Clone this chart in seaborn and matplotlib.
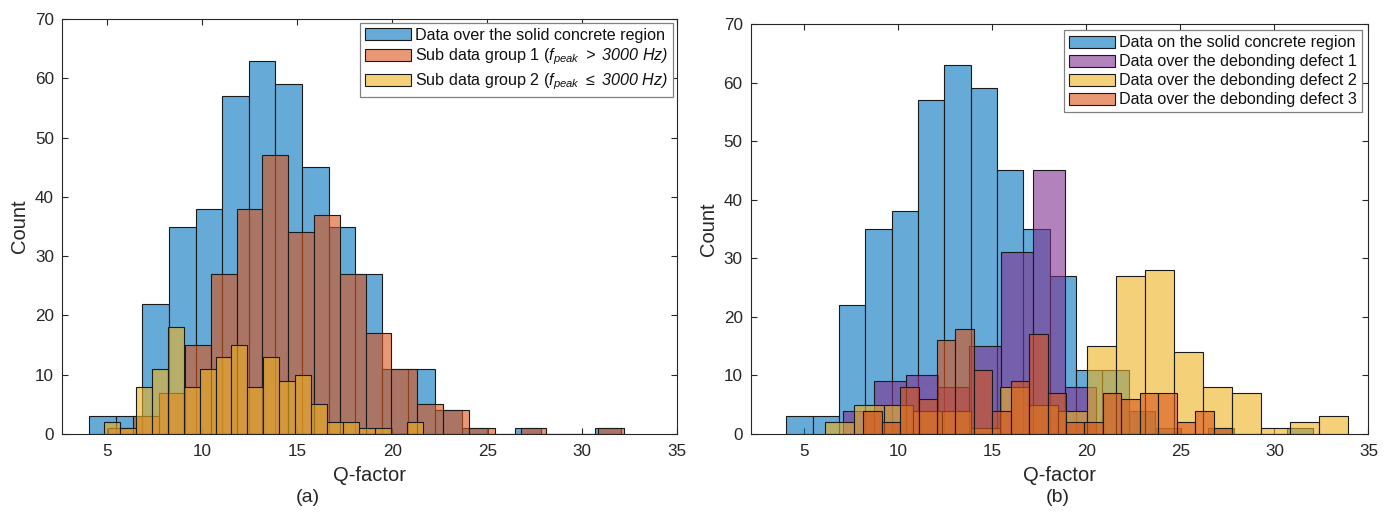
import numpy as np
import pandas as pd
import matplotlib
matplotlib.use("Agg")
import matplotlib.pyplot as plt
import seaborn as sns
from matplotlib.patches import Patch
from matplotlib.colors import to_rgba

# ---------------- data ----------------
# panel (a)
solid_edges = [4.05, 5.45, 6.85, 8.25, 9.65, 11.05, 12.45, 13.85, 15.25, 16.65, 18.05,
               19.45, 20.85, 22.25, 23.65, 25.05, 26.45, 27.85, 29.25, 30.65, 32.05]
solid_counts = [3, 3, 22, 35, 38, 57, 63, 59, 45, 35, 27, 11, 11, 4, 1, 0, 1, 0, 0, 1]

sub1_edges = [5.02, 6.38, 7.74, 9.09, 10.45, 11.81, 13.17, 14.53, 15.88, 17.24, 18.60,
              19.96, 21.32, 22.67, 24.03, 25.39, 26.75, 28.11, 29.46, 30.82, 32.18]
sub1_counts = [1, 3, 7, 15, 27, 38, 47, 34, 37, 27, 17, 11, 5, 4, 1, 0, 1, 0, 0, 1]

sub2_edges = [4.84, 5.68, 6.52, 7.35, 8.19, 9.03, 9.87, 10.71, 11.54, 12.38, 13.22,
              14.06, 14.90, 15.73, 16.57, 17.41, 18.25, 19.09, 19.92, 20.76, 21.60]
sub2_counts = [2, 1, 8, 11, 18, 8, 11, 13, 15, 8, 13, 9, 10, 5, 2, 2, 1, 1, 0, 2]

# panel (b)
def1_edges = [7.04, 8.73, 10.41, 12.10, 13.78, 15.47, 17.16, 18.84, 20.53]
def1_counts = [4, 9, 10, 8, 15, 31, 45, 8]

def2_edges = [6.13, 7.67, 9.22, 10.76, 12.30, 13.85, 15.39, 16.93, 18.47, 20.02,
              21.56, 23.10, 24.65, 26.19, 27.73, 29.28, 30.82, 32.36, 33.90]
def2_counts = [2, 5, 5, 4, 4, 1, 8, 5, 4, 15, 27, 28, 14, 8, 7, 1, 2, 3]

def3_edges = [8.14, 9.12, 10.10, 11.08, 12.06, 13.04, 14.02, 15.00, 15.98, 16.96, 17.94,
              18.92, 19.90, 20.88, 21.86, 22.84, 23.82, 24.80, 25.78, 26.76, 27.74]
def3_counts = [4, 2, 8, 6, 16, 18, 11, 4, 9, 17, 7, 2, 2, 7, 6, 7, 7, 2, 4, 1]

labels_a = ["Data over the solid concrete region",
            r"Sub data group 1 ($f_{peak}\mathsf{\ >\ 3000\ Hz)}$",
            r"Sub data group 2 ($f_{peak}\mathsf{\ \leq\ 3000\ Hz)}$"]
labels_b = ["Data on the solid concrete region",
            "Data over the debonding defect 1",
            "Data over the debonding defect 2",
            "Data over the debonding defect 3"]
x_ticks = [5, 10, 15, 20, 25, 30, 35]
y_ticks = [0, 10, 20, 30, 40, 50, 60, 70]

# ---------------- style ----------------
sns.set_theme(style="white")
plt.rcParams['font.family'] = ['Liberation Sans', 'DejaVu Sans']
plt.rcParams['mathtext.fontset'] = 'custom'
plt.rcParams['mathtext.rm'] = 'Liberation Sans'
plt.rcParams['mathtext.it'] = 'Liberation Sans:italic'
plt.rcParams['mathtext.sf'] = 'Liberation Sans:italic'
plt.rcParams['mathtext.bf'] = 'Liberation Sans:bold'

BLUE = (0.0, 0.447, 0.741)
RED = (0.850, 0.325, 0.098)
YELLOW = (0.929, 0.694, 0.125)
PURPLE = (0.494, 0.184, 0.556)
ALPHA = 0.6
EDGE = '#1a1a1a'
AXC = '#262626'

fig = plt.figure(figsize=(13.95, 5.14), dpi=100)
axL = fig.add_axes([0.04466, 0.15564, 0.44086, 0.80739])
axR = fig.add_axes([0.53835, 0.15564, 0.44265, 0.79767])


def hist(ax, edges, counts, color):
    e = [float(v) for v in edges]
    centers = [(a + b) / 2 for a, b in zip(e[:-1], e[1:])]
    df = pd.DataFrame({"q": centers, "n": [float(c) for c in counts]})
    sns.histplot(data=df, x="q", weights="n", bins=e, ax=ax, color=color, alpha=ALPHA,
                 edgecolor=EDGE, linewidth=0.8)


hist(axL, solid_edges, solid_counts, BLUE)
hist(axL, sub1_edges, sub1_counts, RED)
hist(axL, sub2_edges, sub2_counts, YELLOW)

hist(axR, solid_edges, solid_counts, BLUE)
hist(axR, def1_edges, def1_counts, PURPLE)
hist(axR, def2_edges, def2_counts, YELLOW)
hist(axR, def3_edges, def3_counts, RED)

axL.set_xlim(2.64, 35)
axR.set_xlim(2.17, 35)

for ax, lx, ly in ((axL, -0.054, -0.076), (axR, -0.054, -0.077)):
    ax.set_ylim(0, 70)
    ax.set_xticks(x_ticks)
    ax.set_yticks(y_ticks)
    ax.grid(False)
    ax.tick_params(axis='both', direction='in', length=4, width=0.8,
                   top=True, right=True, bottom=True, left=True,
                   labelsize=12.3, colors=AXC)
    ax.tick_params(axis='x', pad=7.5)
    ax.tick_params(axis='y', pad=6)
    for s in ax.spines.values():
        s.set_visible(True)
        s.set_color(AXC)
        s.set_linewidth(0.8)
    ax.set_xlabel('Q-factor', fontsize=14.5, color=AXC)
    ax.set_ylabel('Count', fontsize=14.5, color=AXC)
    ax.xaxis.set_label_coords(0.5, ly)
    ax.yaxis.set_label_coords(lx, 0.5)


def legend(ax, colors, labels, pad):
    handles = [Patch(facecolor=to_rgba(c, ALPHA), edgecolor=EDGE, linewidth=0.8) for c in colors]
    leg = ax.legend(handles, labels, loc='upper right', fontsize=11.6, frameon=True,
                    fancybox=False, framealpha=1, edgecolor='#808080',
                    handlelength=2.9, handleheight=0.75, handletextpad=0.25,
                    borderpad=0.3, labelspacing=0.25, borderaxespad=pad)
    leg.get_frame().set_linewidth(0.9)
    for t in leg.get_texts():
        t.set_color('#111111')


legend(axL, [BLUE, RED, YELLOW], labels_a, 0.25)
legend(axR, [BLUE, PURPLE, YELLOW, RED], labels_b, 0.4)

fig.text(308 / 1395, 1 - 497 / 514, '(a)', ha='center', va='center', fontsize=14, color=AXC)
fig.text(1058 / 1395, 1 - 497 / 514, '(b)', ha='center', va='center', fontsize=14, color=AXC)

fig.savefig('out.png', dpi=100)
